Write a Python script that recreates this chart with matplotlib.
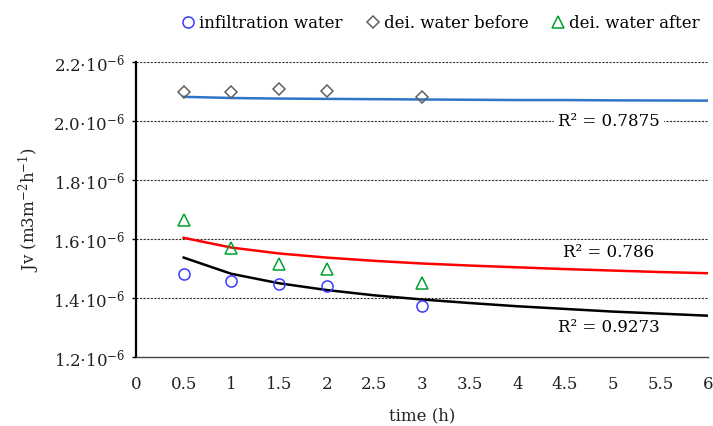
import matplotlib.pyplot as plt
import numpy as np

plt.rcParams['font.family'] = 'DejaVu Serif'
plt.rcParams['mathtext.fontset'] = 'dejavuserif'

# measured points (time in h, Jv in 1e-6 m3 m-2 h-1)
t_meas = [0.5, 1, 1.5, 2, 3]
infiltration = [1.481, 1.458, 1.447, 1.441, 1.373]
dei_before = [2.099, 2.099, 2.107, 2.103, 2.082]
dei_after = [1.664, 1.568, 1.515, 1.497, 1.452]

# trendlines
t_trend = [0.5, 1, 1.5, 2, 2.5, 3, 3.5, 4, 4.5, 5, 5.5, 6]
trend_before = [2.082, 2.078, 2.076, 2.075, 2.074, 2.073, 2.072, 2.071, 2.071, 2.070, 2.0695, 2.069]
trend_after = [1.604, 1.571, 1.551, 1.537, 1.526, 1.517, 1.510, 1.504, 1.498, 1.493, 1.488, 1.484]
trend_infil = [1.537, 1.482, 1.450, 1.427, 1.409, 1.395, 1.383, 1.372, 1.363, 1.354, 1.347, 1.340]

x_ticks = [0, 0.5, 1, 1.5, 2, 2.5, 3, 3.5, 4, 4.5, 5, 5.5, 6]
x_labels = ['0', '0.5', '1', '1.5', '2', '2.5', '3', '3.5', '4', '4.5', '5', '5.5', '6']
y_ticks = [1.2, 1.4, 1.6, 1.8, 2.0, 2.2]
y_labels = [r'1.2$\cdot$10$^{-6}$', r'1.4$\cdot$10$^{-6}$', r'1.6$\cdot$10$^{-6}$',
            r'1.8$\cdot$10$^{-6}$', r'2.0$\cdot$10$^{-6}$', r'2.2$\cdot$10$^{-6}$']

fs = 12

fig = plt.figure(figsize=(7.13, 4.26), dpi=100)
ax = fig.add_axes([136 / 713, 1 - 357 / 426, 572 / 713, 295 / 426])

ax.plot(t_trend, trend_before, color='#2e75c8', lw=1.8, zorder=3)
ax.plot(t_trend, trend_after, color='#ff0000', lw=1.8, zorder=3)
ax.plot(t_trend, trend_infil, color='black', lw=1.8, zorder=3)

ax.plot(t_meas, infiltration, 'o', ms=8, mfc='none', mec='#3b3bff', mew=1.1, zorder=4,
        label='infiltration water')
ax.plot(t_meas, dei_before, 'D', ms=6.5, mfc='none', mec='#606060', mew=1.1, zorder=4,
        label='dei. water before')
ax.plot(t_meas, dei_after, '^', ms=8.5, mfc='none', mec='#00a030', mew=1.1, zorder=4,
        label='dei. water after')

for y in [1.4, 1.6, 1.8, 2.0, 2.2]:
    ax.axhline(y, color='#333333', lw=0.8, ls=(0, (2, 1.2)), zorder=1)

tb = dict(facecolor='white', edgecolor='none', pad=3)
ax.text(4.96, 2.0, 'R² = 0.7875', fontsize=fs, ha='center', va='center', bbox=tb, zorder=2)
ax.text(4.96, 1.555, 'R² = 0.786', fontsize=fs, ha='center', va='center', bbox=tb, zorder=2)
ax.text(4.96, 1.299, 'R² = 0.9273', fontsize=fs, ha='center', va='center', zorder=2)

ax.set_xlim(0, 6)
ax.set_ylim(1.2, 2.2)
ax.set_xticks(x_ticks)
ax.set_xticklabels(x_labels, fontsize=fs, color='#222222')
ax.set_yticks(y_ticks)
ax.set_yticklabels(y_labels, fontsize=fs, color='#222222')
ax.tick_params(axis='x', length=0, pad=14)
ax.tick_params(axis='y', length=3, width=1, pad=5)

for s in ['top', 'right']:
    ax.spines[s].set_visible(False)
ax.spines['left'].set_linewidth(1.6)
ax.spines['left'].set_color('black')
ax.spines['bottom'].set_linewidth(1.0)
ax.spines['bottom'].set_color('#444444')

ax.set_xlabel('time (h)', fontsize=fs, color='#222222', labelpad=10)
ax.set_ylabel(r'Jv (m3m$^{-2}$h$^{-1}$)', fontsize=fs, color='#222222', labelpad=8)

fig.legend(loc='upper left', bbox_to_anchor=(180 / 713, 1 - 15 / 426), ncol=3, frameon=False,
           fontsize=fs, handletextpad=0.15, columnspacing=1.3, handlelength=1.0,
           borderaxespad=0, borderpad=0)

fig.savefig('out.png', dpi=100)
